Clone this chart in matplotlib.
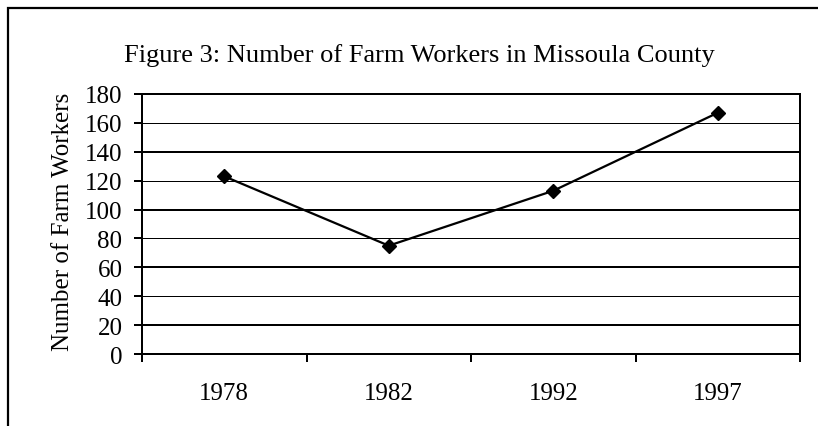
import matplotlib
matplotlib.use("Agg")
import matplotlib.pyplot as plt
from matplotlib.patches import Rectangle

years = ["1978", "1982", "1992", "1997"]
workers = [123, 75, 113, 167]
yticks = [0, 20, 40, 60, 80, 100, 120, 140, 160, 180]
title = "Figure 3: Number of Farm Workers in Missoula County"
ylabel = "Number of Farm Workers"

plt.rcParams['font.family'] = ['Liberation Serif', 'DejaVu Serif']
W, H = 818, 427
fig = plt.figure(figsize=(W / 100, H / 100), dpi=100)
ax = fig.add_axes([142 / W, 1 - 355 / H, (800 - 142) / W, (355 - 95) / H])

# outer frame (cropped at right and bottom)
fig.patches.append(Rectangle((8 / W, -0.05), 1.2, 1 - 9 / H + 0.05, transform=fig.transFigure,
                             fill=False, edgecolor='black', linewidth=1.6))

px = 72 / 100
for v in yticks[1:-1]:
    lw = 2 * px if (v // 20) % 2 == 1 else 1 * px
    ax.axhline(v, color='black', linewidth=lw, zorder=1)

xs = [i + 0.5 for i in range(len(years))]
ax.plot(xs, workers, color='black', linewidth=1.6 * px * 1.4, marker='D', markersize=7,
        markeredgecolor='black', markerfacecolor='black', zorder=3)

ax.set_xlim(0, len(years))
ax.set_ylim(0, 180)
ax.set_yticks(yticks)
ax.set_yticklabels([str(v) for v in yticks], fontsize=18)
ax.set_xticks(range(len(years) + 1))
ax.set_xticklabels([])
ax.set_xticks(xs, minor=True)
ax.set_xticklabels(years, minor=True, fontsize=18)
ax.tick_params(axis='x', which='major', direction='out', length=6 * px * 1.4, width=2 * px)
ax.tick_params(axis='x', which='minor', length=0, pad=20)
ax.tick_params(axis='y', which='major', direction='out', length=6 * px * 1.4, width=2 * px, pad=8)
for s in ax.spines.values():
    s.set_linewidth(2 * px)
    s.set_color('black')

fig.text(419 / W, 1 - 62 / H, title, ha='center', va='baseline', fontsize=19)
fig.text(63 / W, 1 - 222 / H, ylabel, ha='center', va='center', rotation=90, fontsize=18)

fig.savefig("out.png", dpi=100)
